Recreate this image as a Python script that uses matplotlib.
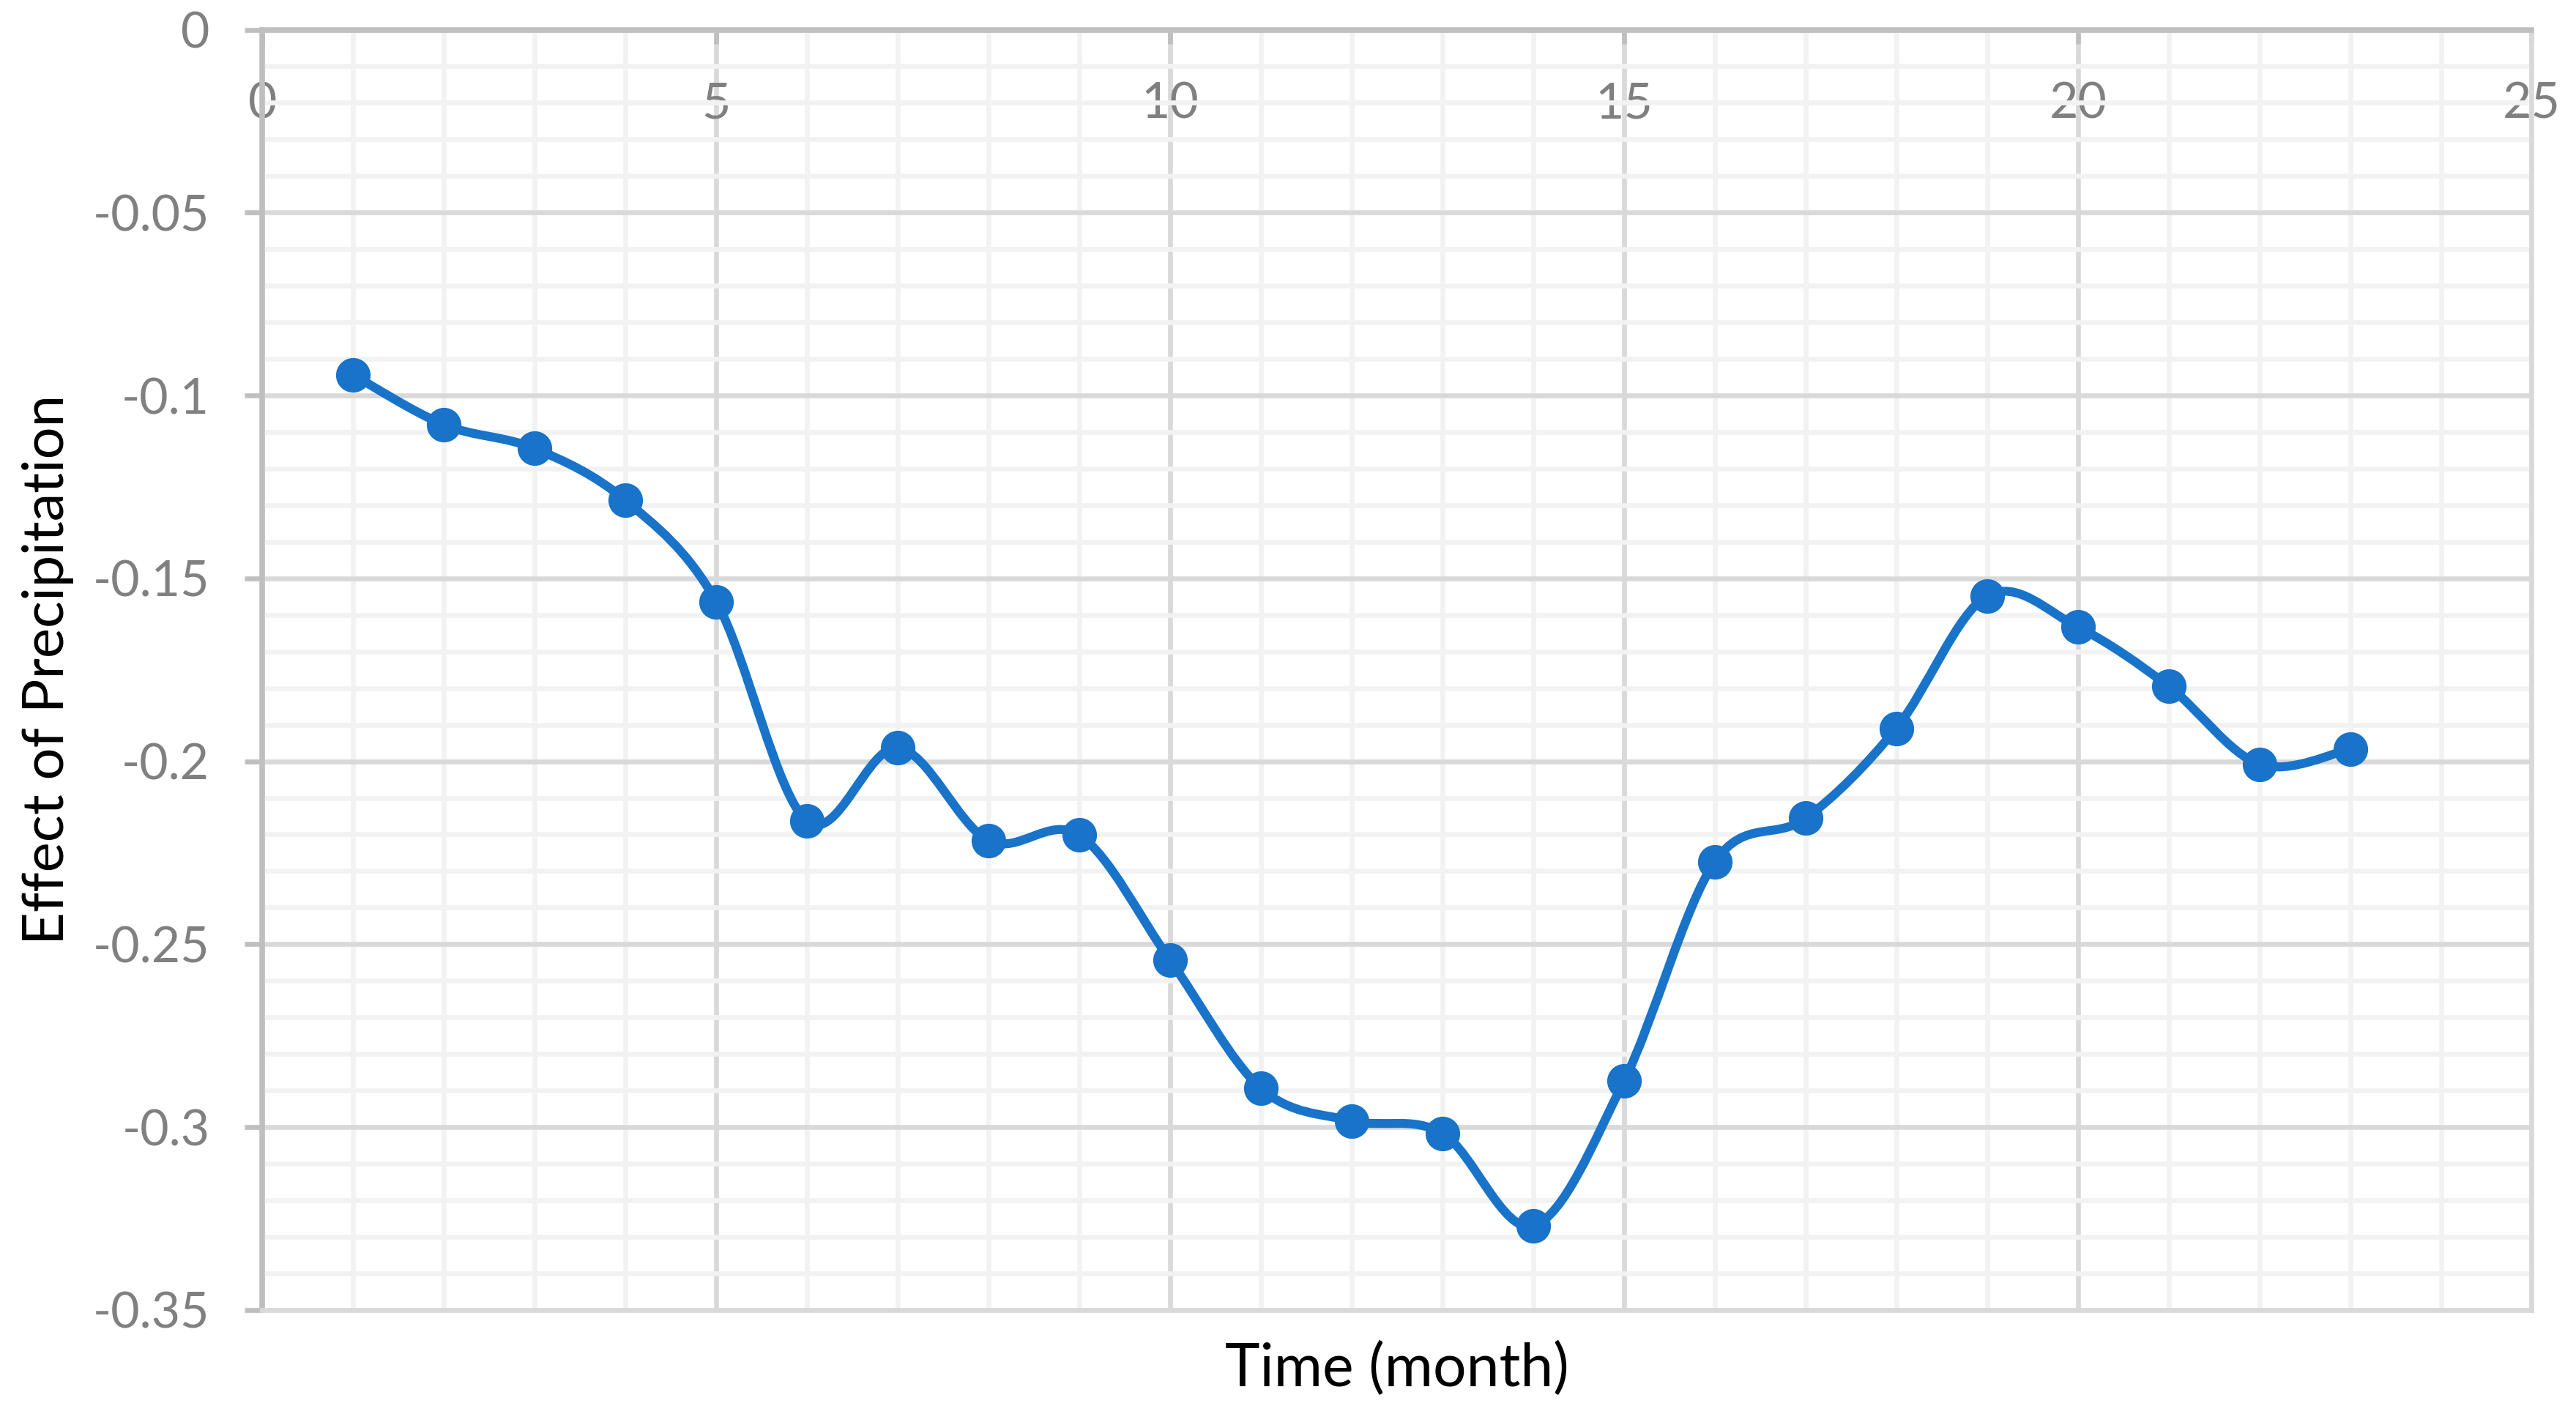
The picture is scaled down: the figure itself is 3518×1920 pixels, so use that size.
import matplotlib
matplotlib.use("Agg")
import matplotlib.pyplot as plt
from matplotlib.path import Path
from matplotlib.patches import PathPatch
from matplotlib.ticker import FixedLocator, MultipleLocator
import numpy as np

# データ
months = [1, 2, 3, 4, 5, 6, 7, 8, 9, 10, 11, 12,
          13, 14, 15, 16, 17, 18, 19, 20, 21, 22, 23]
effect = [-0.0944, -0.1080, -0.1145, -0.1287, -0.1564, -0.2164, -0.1963,
          -0.2217, -0.2202, -0.2544, -0.2894, -0.2983, -0.3017, -0.3270,
          -0.2874, -0.2275, -0.2156, -0.1910, -0.1548, -0.1633, -0.1795,
          -0.2008, -0.1967]

x_ticks = [0, 5, 10, 15, 20, 25]
x_tick_labels = ['0', '5', '10', '15', '20', '25']
y_ticks = [-0.35, -0.3, -0.25, -0.2, -0.15, -0.1, -0.05, 0]
y_tick_labels = ['-0.35', '-0.3', '-0.25', '-0.2', '-0.15', '-0.1', '-0.05', '0']

LINE_COLOR = '#1873C9'
TICK_COLOR = '#808080'
AXIS_COLOR = '#BFBFBF'

plt.rcParams['font.family'] = ['Lato', 'DejaVu Sans']


# Excel風のなめらかな線 (Catmull-Rom -> ベジェ曲線)
def smooth_path(xs, ys):
    pts = np.column_stack([xs, ys]).astype(float)
    n = len(pts)
    verts = [pts[0]]
    codes = [Path.MOVETO]
    for i in range(n - 1):
        p0 = pts[i - 1] if i > 0 else pts[i]
        p1 = pts[i]
        p2 = pts[i + 1]
        p3 = pts[i + 2] if i + 2 < n else pts[i + 1]
        c1 = p1 + (p2 - p0) / 6.0
        c2 = p2 - (p3 - p1) / 6.0
        verts += [c1, c2, p2]
        codes += [Path.CURVE4] * 3
    return Path(verts, codes)


fig = plt.figure(figsize=(17.59, 9.6), dpi=200)
ax = fig.add_axes([0.1019, 0.0683, 0.8809, 0.9106])

ax.set_xlim(0, 25)
ax.set_ylim(-0.35, 0)

# グリッド
ax.xaxis.set_major_locator(FixedLocator(x_ticks))
ax.xaxis.set_minor_locator(MultipleLocator(1))
ax.yaxis.set_major_locator(FixedLocator(y_ticks))
ax.yaxis.set_minor_locator(MultipleLocator(0.01))
ax.grid(which='major', color='#D9D9D9', linewidth=2.4, zorder=0)
ax.grid(which='minor', color='#F2F2F2', linewidth=2.4, zorder=0)
ax.set_axisbelow(True)

ax.set_xticklabels(x_tick_labels)
ax.set_yticklabels(y_tick_labels)

for side in ['bottom', 'right']:
    ax.spines[side].set_color('#D9D9D9')
    ax.spines[side].set_linewidth(2.4)
for side in ['top', 'left']:
    ax.spines[side].set_color(AXIS_COLOR)
    ax.spines[side].set_linewidth(2.7)

# x軸は上 (y=0) にあり、ラベルは内側に表示
ax.tick_params(axis='x', which='major', direction='in', length=7, width=2.4,
               color=AXIS_COLOR, top=True, bottom=False,
               labeltop=True, labelbottom=False, pad=-48,
               labelsize=24.5, labelcolor=TICK_COLOR)
ax.tick_params(axis='x', which='minor', length=0, top=False, bottom=False)
ax.tick_params(axis='y', which='major', direction='out', length=8.5,
               width=2.4, color=AXIS_COLOR, pad=17.5,
               labelsize=24.5, labelcolor=TICK_COLOR)
ax.tick_params(axis='y', which='minor', length=0)

# 線とマーカー
patch = PathPatch(smooth_path(months, effect), facecolor='none',
                  edgecolor=LINE_COLOR, linewidth=4.4, zorder=3,
                  capstyle='round', joinstyle='round')
ax.add_patch(patch)
ax.plot(months, effect, 'o', color=LINE_COLOR, ms=17, mew=0, zorder=4)

ax.set_xlabel('Time (month)', fontsize=29, color='black', labelpad=12)
ax.set_ylabel('Effect of Precipitation', fontsize=28, color='black')
ax.yaxis.set_label_coords(-0.083, 0.5)

fig.savefig('out.png', dpi=200)
